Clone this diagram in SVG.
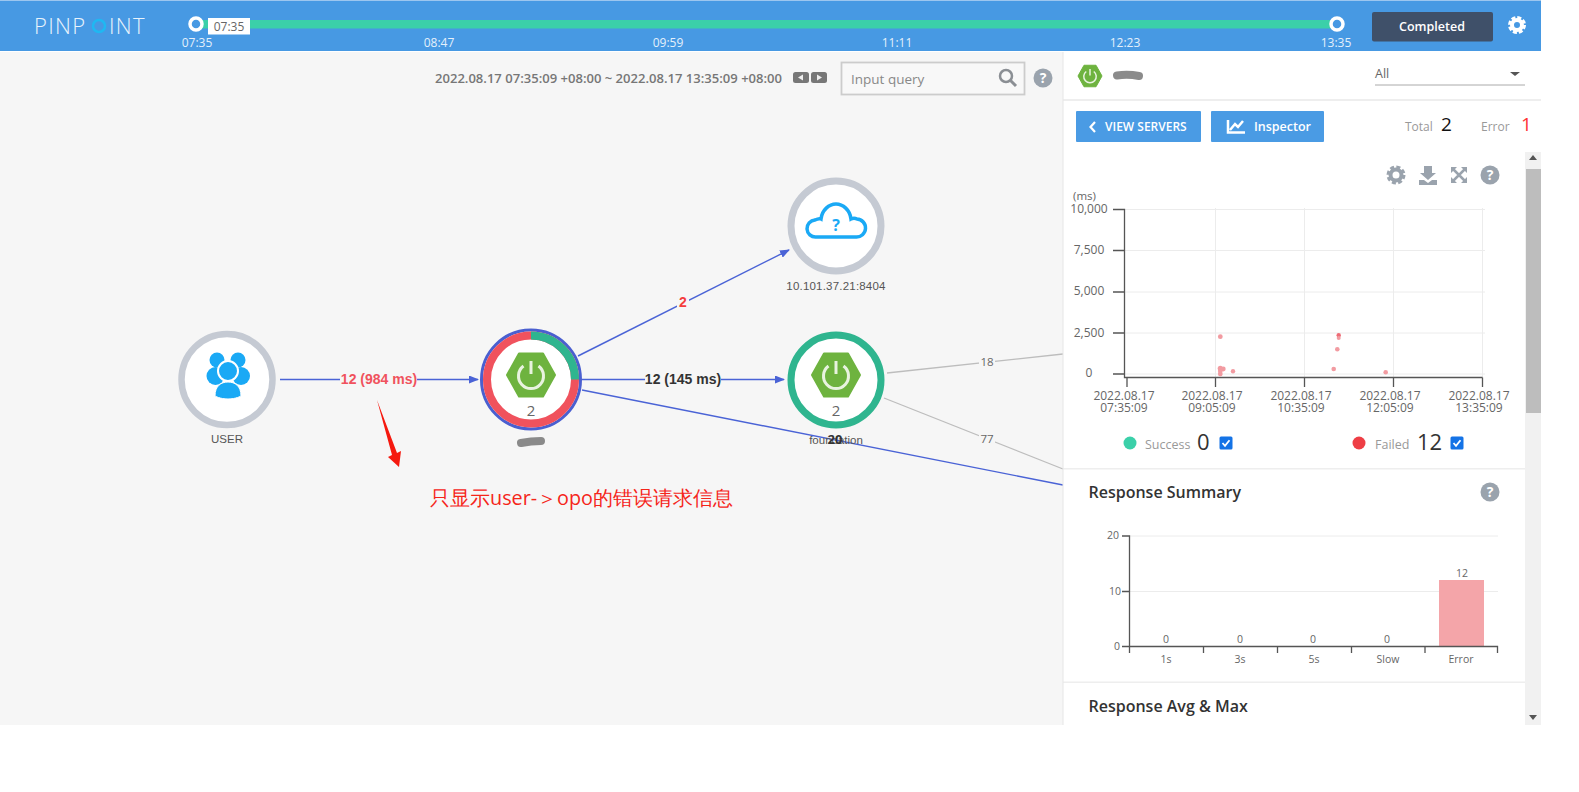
<svg xmlns="http://www.w3.org/2000/svg" width="1579" height="792" viewBox="0 0 1579 792">
<style>
text{font-family:"Open Sans","Liberation Sans",sans-serif}
.hw{fill:#e4f0fb;font-size:12px;text-anchor:middle}
.node{fill:#555;font-size:11.5px;text-anchor:middle;font-family:"Liberation Sans",sans-serif}
.edge{font-size:14px;font-weight:bold;text-anchor:middle;font-family:"Liberation Sans",sans-serif}
.gl{fill:none;stroke:#bdbdbd;stroke-width:1.3}
.bl{fill:none;stroke:#4a63d6;stroke-width:1.4}
.grid{stroke:#ececec;stroke-width:1}
.ax{stroke:#555;stroke-width:1.3;fill:none}
.tk{fill:#666;font-size:12px;text-anchor:middle}
.tk2{fill:#666;font-size:10.5px;text-anchor:middle}
.pt{fill:#f29ba1}
.ic{fill:#9aa3ad}
.ttl{fill:#333;font-size:16px;font-weight:600}
.lg{fill:#999;font-size:12.5px}
.big{fill:#333;font-size:22px}
.btn{fill:#4a9be4}
.btx{fill:#fff;font-size:12px;font-weight:600}
.smudge{fill:none;stroke:#777;stroke-width:8;stroke-linecap:round;opacity:.85}
</style>
<defs>
<marker id="ah" markerWidth="10" markerHeight="8" refX="9" refY="4" orient="auto" markerUnits="userSpaceOnUse"><path d="M0 0L10 4L0 8Z" fill="#4a63d6"/></marker>
<g id="spring">
<path d="M-12-21.500H12L24 0L12 21.500H-12L-24 0Z" fill="#6eb33f" stroke="#6eb33f" stroke-width="2" stroke-linejoin="round"/>
<path d="M-7.500-9A12.500 12.500 0 1 0 7.500-9" fill="none" stroke="#e8f3df" stroke-width="3"/>
<path d="M0-14V-1" stroke="#e8f3df" stroke-width="3" fill="none"/>
</g>
<g id="help"><circle r="9.500" fill="#9aa3ad"/><text y="5" text-anchor="middle" fill="#fff" font-size="14" font-weight="bold">?</text></g>
<g id="gear"><circle r="5.500" fill="none" stroke="#9aa3ad" stroke-width="4"/><circle r="8" fill="none" stroke="#9aa3ad" stroke-width="3" stroke-dasharray="4 2.300"/></g>
<g id="check"><rect x="-6.500" y="-6.500" width="13" height="13" rx="1.500" fill="#1473e6"/><path d="M-3.500 0L-1 2.800L3.500-2.800" fill="none" stroke="#fff" stroke-width="1.800"/></g>
</defs>

<rect width="1579" height="792" fill="#fff"/>
<rect id="canvas" x="0" y="52" width="1063" height="673" fill="#f6f6f6"/>

<g id="header">
<rect x="0" y="0" width="1541" height="51" fill="#4799e3"/>
<rect x="0" y="0" width="1541" height="1" fill="#9cc6ef"/>
<text x="34" y="34" fill="#e8f3fc" font-size="22" font-weight="300" letter-spacing="1.300">PINP</text>
<circle cx="99" cy="26" r="6" fill="none" stroke="#1fb8f2" stroke-width="2.500"/>
<text x="109" y="34" fill="#e8f3fc" font-size="22" font-weight="300" letter-spacing="1.300">INT</text>
<rect x="200" y="20" width="1137" height="8.500" fill="#3bd0a9"/>
<circle cx="196" cy="24" r="6" fill="#4799e3" stroke="#fff" stroke-width="3.500"/>
<rect x="208" y="18" width="42" height="16.500" fill="#fff"/>
<text x="229" y="31" fill="#666" font-size="12" text-anchor="middle">07:35</text>
<circle cx="1337" cy="24" r="6" fill="#4799e3" stroke="#fff" stroke-width="3.500"/>
<text class="hw" x="197" y="47">07:35</text>
<text class="hw" x="439" y="47">08:47</text>
<text class="hw" x="668" y="47">09:59</text>
<text class="hw" x="897" y="47">11:11</text>
<text class="hw" x="1125" y="47">12:23</text>
<text class="hw" x="1336" y="47">13:35</text>
<rect x="1372" y="12" width="121" height="29.500" rx="2" fill="#3f5069"/>
<text x="1432" y="31" fill="#fff" font-size="12.500" font-weight="600" text-anchor="middle">Completed</text>
<circle cx="1517" cy="25" r="5" fill="none" stroke="#fff" stroke-width="4"/>
<circle cx="1517" cy="25" r="7.500" fill="none" stroke="#fff" stroke-width="3" stroke-dasharray="4 1.900"/>
</g>

<g id="toolbar">
<text x="435" y="83" fill="#777" font-size="13.050" font-weight="600">2022.08.17 07:35:09 +08:00 ~ 2022.08.17 13:35:09 +08:00</text>
<rect x="793" y="72" width="16" height="11" rx="2.500" fill="#777"/>
<rect x="811" y="72" width="16" height="11" rx="2.500" fill="#777"/>
<path d="M803 74.500L798 77.500L803 80.500Z M817 74.500L822 77.500L817 80.500Z" fill="#eee"/>
<rect x="841.500" y="62.500" width="183" height="32" fill="#f8f8f8" stroke="#ccc" stroke-width="1.800"/>
<text x="851" y="84" fill="#888" font-size="13.500">Input query</text>
<circle cx="1006" cy="76" r="6" fill="none" stroke="#8b8f94" stroke-width="2.500"/>
<path d="M1010.500 80.500L1016 86" stroke="#8b8f94" stroke-width="3"/>
<use href="#help" x="1043" y="78"/>
</g>

<g id="connectors">
<path class="gl" d="M887 373L1063 354"/>
<path class="gl" d="M884 398L1063 469"/>
<path class="bl" d="M582 390L1063 485"/>
<path class="bl" d="M280 379.500H478" marker-end="url(#ah)"/>
<path class="bl" d="M582 379.500H784" marker-end="url(#ah)"/>
<path class="bl" d="M578 356L789 250" marker-end="url(#ah)"/>
<rect x="340" y="370" width="77" height="18" fill="#f6f6f6"/>
<text class="edge" x="379" y="383.500" fill="#f0525d">12 (984 ms)</text>
<rect x="645" y="370" width="76" height="18" fill="#f6f6f6"/>
<text class="edge" x="683" y="383.500" fill="#333">12 (145 ms)</text>
<rect x="677" y="295" width="12" height="14" fill="#f6f6f6"/>
<text class="edge" x="683" y="307" fill="#f43c3c">2</text>
<rect x="979" y="354" width="16" height="15" fill="#f6f6f6"/>
<text x="987" y="366" fill="#666" font-size="11.500" text-anchor="middle" font-family="Liberation Sans,sans-serif">18</text>
<rect x="979" y="431" width="16" height="15" fill="#f6f6f6"/>
<text x="987" y="443" fill="#666" font-size="11.500" text-anchor="middle" font-family="Liberation Sans,sans-serif">77</text>
</g>

<g id="node-user">
<circle cx="227" cy="379.500" r="45.500" fill="#fff" stroke="#c5cad3" stroke-width="6.500"/>
<g fill="#1aa9f5">
<circle cx="217" cy="360" r="7.500"/><circle cx="238" cy="360" r="7.500"/>
<ellipse cx="215.500" cy="376" rx="9" ry="9"/><ellipse cx="241" cy="376" rx="9" ry="9"/>
<circle cx="228" cy="371" r="10" stroke="#fff" stroke-width="2"/>
<path d="M215 396c0-10 6-14 13-14s13 4 13 14c0 0-5 3-13 3s-13-3-13-3Z" stroke="#fff" stroke-width="1"/>
</g>
<text class="node" x="227" y="443">USER</text>
</g>

<g id="node-opo">
<circle cx="531" cy="379.500" r="49.500" fill="#fff" stroke="#4a5fd0" stroke-width="3"/>
<circle cx="531" cy="379.500" r="44" fill="#fff" stroke="#f0525d" stroke-width="8"/>
<path d="M531 335.500A44 44 0 0 1 575 379.500" fill="none" stroke="#2fb58f" stroke-width="8"/>
<use href="#spring" x="531" y="375"/>
<text x="531" y="415.500" fill="#666" font-size="15" text-anchor="middle">2</text>
<path class="smudge" d="M521 443Q531 441 541 441"/>
</g>

<g id="node-cloud">
<circle cx="836" cy="226" r="45" fill="#fff" stroke="#c5cad3" stroke-width="7"/>
<path d="M816 237a8.500 8.500 0 0 1-1-17c2-1 4-2 6-1c1-9 8-15 15-15s14 6 15 15c2-1 4-1 6 0a9 9 0 0 1-1 18Z" fill="none" stroke="#1aa9f5" stroke-width="3.500"/>
<text x="836" y="231" fill="#1aa9f5" font-size="16" font-weight="bold" text-anchor="middle">?</text>
<text class="node" x="836" y="290" style="letter-spacing:.2px">10.101.37.21:8404</text>
</g>

<g id="node-foundation">
<circle cx="836" cy="380" r="45" fill="#fff" stroke="#2fb58f" stroke-width="7"/>
<use href="#spring" x="836" y="375"/>
<text x="836" y="416" fill="#666" font-size="15" text-anchor="middle">2</text>
<text class="node" x="836" y="444">foundation</text>
<text x="835" y="444" fill="#333" font-size="13" font-weight="bold" text-anchor="middle" font-family="Liberation Sans,sans-serif">20</text>
</g>

<g id="annotation">
<path d="M377 400L392 455L388 457L399 467L401 451L397 453Z" fill="#f5190f"/>
<text x="430" y="505" fill="#f5251a" font-size="19.800" font-family="Noto Sans CJK SC,sans-serif">只显示user-＞opo的错误请求信息</text>
</g>

<g id="panel">
<rect x="1063" y="52" width="462" height="673" fill="#fff"/>
<rect x="1525" y="152" width="16" height="573" fill="#f1f1f1"/>
<rect x="1526" y="169" width="15" height="244" fill="#bdbdbd"/>
<path d="M1533 155L1537 160H1529Z M1533 720L1537 715H1529Z" fill="#555"/>
<rect x="1063" y="99" width="478" height="2" fill="#eee"/>
<rect x="1063" y="468" width="462" height="1.500" fill="#eee"/>
<rect x="1063" y="681.500" width="462" height="1.500" fill="#eee"/>
<path d="M1063 52V725" stroke="#e6e6e6" fill="none"/>

<g transform="translate(1090 76) scale(.5)"><use href="#spring"/></g>
<path class="smudge" d="M1117 75.500Q1128 74 1139 76"/>
<text x="1375" y="78" fill="#666" font-size="12.500">All</text>
<path d="M1375 85H1525" stroke="#aaa"/>
<path d="M1510 72H1520L1515 76Z" fill="#555"/>

<rect class="btn" x="1076" y="111" width="125" height="31" rx="1"/>
<path d="M1095 122L1090.500 127L1095 132" fill="none" stroke="#fff" stroke-width="2.200"/>
<text class="btx" x="1105" y="131">VIEW SERVERS</text>
<rect class="btn" x="1211" y="111" width="113" height="31" rx="1"/>
<path d="M1228 120V132.500H1245M1230 130L1235 124L1238 127L1243 121" fill="none" stroke="#fff" stroke-width="2.500"/>
<text class="btx" x="1254" y="131" style="font-size:12.500px">Inspector</text>
<text x="1405" y="131" fill="#999" font-size="12">Total</text>
<text x="1441" y="131" fill="#111" font-size="19">2</text>
<text x="1481" y="131" fill="#999" font-size="12">Error</text>
<text x="1521" y="131" fill="#f33" font-size="19">1</text>

<use href="#gear" x="1396" y="175"/>
<path class="ic" d="M1424 166h8v7h4l-8 7l-8-7h4Z M1419 180h5l4 3l4-3h5v5h-18Z"/>
<path d="M1453 169L1465 181M1465 169L1453 181" stroke="#9aa3ad" stroke-width="2.500"/>
<path class="ic" d="M1451 167h6l-6 6Z M1467 167h-6l6 6Z M1451 183h6l-6-6Z M1467 183h-6l6-6Z"/>
<use href="#help" x="1490" y="175"/>
</g>

<g id="scatter-chart">
<text x="1073" y="200" fill="#666" font-size="11.500">(ms)</text>
<path class="grid" d="M1124 209.500H1485M1124 250.500H1485M1124 292H1485M1124 333H1485M1124 374H1485M1215.500 208V377M1304.500 208V377M1393.500 208V377M1482.500 208V377"/>
<path class="ax" d="M1113 209.500H1124.500V377.500H1482.500M1113 250.500H1124M1113 292H1124M1113 333H1124M1113 374H1124M1127 377.500V387M1215.500 377.500V387M1304.500 377.500V387M1393.500 377.500V387M1482.500 377.500V387"/>
<text class="tk" x="1089" y="213">10,000</text>
<text class="tk" x="1089" y="254">7,500</text>
<text class="tk" x="1089" y="295">5,000</text>
<text class="tk" x="1089" y="336.500">2,500</text>
<text class="tk" x="1089" y="377">0</text>
<text class="tk" x="1124" y="400">2022.08.17</text><text class="tk" x="1124" y="412">07:35:09</text>
<text class="tk" x="1212" y="400">2022.08.17</text><text class="tk" x="1212" y="412">09:05:09</text>
<text class="tk" x="1301" y="400">2022.08.17</text><text class="tk" x="1301" y="412">10:35:09</text>
<text class="tk" x="1390" y="400">2022.08.17</text><text class="tk" x="1390" y="412">12:05:09</text>
<text class="tk" x="1479" y="400">2022.08.17</text><text class="tk" x="1479" y="412">13:35:09</text>
<g class="pt">
<circle cx="1220.300" cy="336.700" r="2.400"/><circle cx="1220.300" cy="368.300" r="2.600"/><circle cx="1223.300" cy="369" r="2.400"/><circle cx="1220.300" cy="371" r="2.400"/><circle cx="1220.300" cy="374" r="2.400"/><circle cx="1233" cy="371.300" r="2.200"/><circle cx="1338.700" cy="335.300" r="2.200" fill="#ee6b75"/><circle cx="1338.700" cy="338" r="2"/><circle cx="1337.300" cy="349.300" r="2.300"/><circle cx="1333.700" cy="369" r="2.300"/><circle cx="1385.700" cy="372.300" r="2.300"/>
</g>
<circle cx="1130" cy="443" r="6.500" fill="#3bd0a9"/>
<text class="lg" x="1145" y="449">Success</text>
<text class="big" x="1197" y="450">0</text>
<use href="#check" x="1226" y="443"/>
<circle cx="1359" cy="443" r="6.500" fill="#ee3e45"/>
<text class="lg" x="1375" y="449">Failed</text>
<text class="big" x="1417" y="450">12</text>
<use href="#check" x="1457" y="443"/>
</g>

<g id="response-summary">
<text class="ttl" x="1088.500" y="498">Response Summary</text>
<use href="#help" x="1490" y="492"/>
<path class="grid" d="M1129 536H1498M1129 591.500H1498"/>
<rect x="1439" y="580" width="45" height="66.500" fill="#f4a5a9"/>
<path class="ax" d="M1122 536H1129.500V646.500H1497.500V653M1122 591.500H1129M1122 646.500H1129M1129.500 646.500V653M1203.500 646.500V653M1277.500 646.500V653M1351.500 646.500V653M1425 646.500V653"/>
<text class="tk2" x="1113" y="539">20</text>
<text class="tk2" x="1115" y="595">10</text>
<text class="tk2" x="1117" y="650">0</text>
<text class="tk2" x="1166" y="643">0</text>
<text class="tk2" x="1240" y="643">0</text>
<text class="tk2" x="1313" y="643">0</text>
<text class="tk2" x="1387" y="643">0</text>
<text class="tk2" x="1462" y="577">12</text>
<text class="tk2" x="1166" y="663">1s</text>
<text class="tk2" x="1240" y="663">3s</text>
<text class="tk2" x="1314" y="663">5s</text>
<text class="tk2" x="1388" y="663">Slow</text>
<text class="tk2" x="1461" y="663">Error</text>
<text class="ttl" x="1088.500" y="712">Response Avg &amp; Max</text>
</g>
</svg>
